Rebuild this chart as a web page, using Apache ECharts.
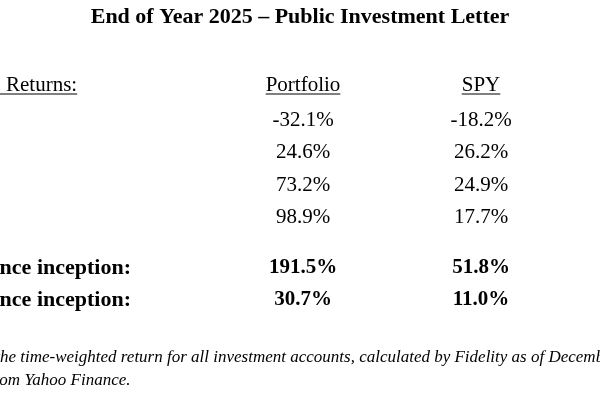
<!DOCTYPE html>
<html>
	<head>
		<meta charset="utf-8">
		<title>End of Year 2025</title>
		<style type="text/css">
			html, body{
				margin: 0;
				padding: 0;
				background: #ffffff;
			}
			#main{
				width: 600px;
				height: 400px;
			}
		</style>
	</head>
	<body>
		<div id="main"></div>
	</body>
<script src="https://cdn.jsdelivr.net/npm/echarts@6/dist/echarts.min.js" type="text/javascript" charset="utf-8"></script>
<script type="text/javascript">
	// table data
	var titleText = 'End of Year 2025 \u2013 Public Investment Letter'
	var columns = ['Returns:', 'Portfolio', 'SPY']
	var years = ['2022', '2023', '2024', '2025']
	var portfolio = [-32.1, 24.6, 73.2, 98.9]
	var spy = [-18.2, 26.2, 24.9, 17.7]
	var summaryLabels = ['Cumulative return since inception:', 'Annualized return since inception:']
	var summaryPortfolio = [191.5, 30.7]
	var summarySpy = [51.8, 11.0]
	var notes = [
		'\u00b9Portfolio performance reflects the time-weighted return for all investment accounts, calculated by Fidelity as of December 31, 2025.',
		'\u00b2SPY data from Yahoo Finance.'
	]
	// hidden left part of each note line (page is cropped on the left)
	var notesCut = ['\u00b9Portfolio performance reflects t', '\u00b2SPY data fr']

	var serif = '"Liberation Serif", "DejaVu Serif", serif'
	var ink = '#000000'

	function pct(v){
		return v.toFixed(1) + '%'
	}

	function cells(col, rows, vals){
		var out = []
		for (var i = 0; i < rows.length; i++){
			out.push([col, rows[i], vals[i]])
		}
		return out
	}

	var chartDom = document.getElementById('main');
	var myChart = echarts.init(chartDom);
	var option;

	option = {
		animation: false,
		backgroundColor: '#ffffff',
		title: {
			text: titleText,
			left: 'center',
			top: 6,
			padding: 0,
			textStyle: {
				fontFamily: serif,
				fontWeight: 'bold',
				fontSize: 22,
				color: ink
			}
		},
		grid: [
			{left: 36, right: 30, top: 104, height: 130},
			{left: 36, right: 30, top: 252, height: 64}
		],
		xAxis: [
			{
				gridIndex: 0,
				type: 'category',
				position: 'top',
				data: columns,
				axisLine: {show: false},
				axisTick: {show: false},
				splitLine: {show: false},
				axisLabel: {
					margin: 19,
					verticalAlign: 'middle',
					fontFamily: serif,
					fontSize: 21,
					color: ink,
					interval: 0,
					formatter: function(v, i){
						return i === 0 ? '{l|' + v + '}' : v
					},
					rich: {
						l: {width: 238, align: 'left', fontFamily: serif, fontSize: 21, color: ink}
					}
				}
			},
			{
				gridIndex: 1,
				type: 'category',
				data: columns,
				show: false
			}
		],
		yAxis: [
			{gridIndex: 0, type: 'category', data: years, inverse: true, show: false},
			{gridIndex: 1, type: 'category', data: summaryLabels, inverse: true, show: false}
		],
		series: []
	};

	var plain = {
		show: true,
		position: 'inside',
		fontFamily: serif,
		fontSize: 21,
		color: ink,
		opacity: 1,
		formatter: function(p){ return pct(p.value[2]) }
	}
	var bold = echarts.util.merge({fontWeight: 'bold'}, plain)

	function cellSeries(grid, data, label){
		return {
			type: 'scatter',
			xAxisIndex: grid,
			yAxisIndex: grid,
			symbolSize: 1,
			itemStyle: {color: '#ffffff', opacity: 1},
			silent: true,
			label: label,
			data: data
		}
	}

	option.series.push(cellSeries(0, cells(columns[1], years, portfolio), plain))
	option.series.push(cellSeries(0, cells(columns[2], years, spy), plain))
	option.series.push(cellSeries(1, cells(columns[1], summaryLabels, summaryPortfolio), bold))
	option.series.push(cellSeries(1, cells(columns[2], summaryLabels, summarySpy), bold))
	option.series.push(cellSeries(1, cells(columns[0], summaryLabels, summaryLabels), {
		show: true,
		position: 'inside',
		align: 'right',
		offset: [6, 0],
		fontFamily: serif,
		fontSize: 22,
		fontWeight: 'bold',
		color: ink,
		opacity: 1,
		formatter: function(p){ return p.value[2] }
	}))

	option && myChart.setOption(option);

	// underlines under the column heads and the cropped footnote
	var ctx = document.createElement('canvas').getContext('2d')
	function textWidth(t, font){
		ctx.font = font
		return ctx.measureText(t).width
	}
	var headFont = '21px ' + serif
	var noteFont = 'italic 17px ' + serif
	var headY = myChart.getModel().getComponent('grid', 0).coordinateSystem.getRect().y - 19
	var lines = []
	for (var i = 0; i < columns.length; i++){
		var cx = myChart.convertToPixel({xAxisIndex: 0}, columns[i])
		var w = textWidth(columns[i], headFont)
		var x1 = cx - w / 2, x2 = cx + w / 2
		if (i === 0){
			x1 = 0
			x2 = cx - 119 + w
		}
		lines.push({
			type: 'line',
			silent: true,
			shape: {x1: x1, y1: headY + 9, x2: x2, y2: headY + 9},
			style: {stroke: ink, lineWidth: 1}
		})
	}
	var noteY = [358, 381]
	for (var k = 0; k < notes.length; k++){
		lines.push({
			type: 'text',
			silent: true,
			x: -textWidth(notesCut[k], noteFont),
			y: noteY[k],
			style: {
				text: notes[k],
				font: noteFont,
				fill: ink,
				verticalAlign: 'middle'
			}
		})
	}
	myChart.setOption({graphic: lines})
</script>
</html>
